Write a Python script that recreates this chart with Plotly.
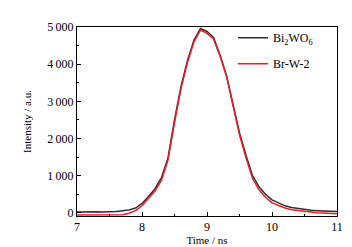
import plotly.graph_objects as go

time_ns = [7.0, 7.1, 7.2, 7.3, 7.4, 7.5, 7.6, 7.7, 7.8, 7.9, 8.0, 8.1, 8.2, 8.3, 8.4, 8.5, 8.6, 8.7, 8.8, 8.9,
           9.0, 9.1, 9.2, 9.3, 9.4, 9.5, 9.6, 9.7, 9.8, 9.9, 10.0, 10.1, 10.2, 10.3, 10.4, 10.5, 10.6, 10.7, 10.8, 10.9, 11.0]
bi2wo6 = [25, 30, 30, 28, 25, 25, 35, 60, 75, 130, 255, 440, 650, 950, 1480, 2500, 3400, 4100, 4650, 4960,
          4880, 4720, 4250, 3700, 2900, 2150, 1550, 1000, 700, 500, 350, 260, 190, 145, 115, 90, 70, 60, 55, 45, 35]
brw2 = [-60, -60, -60, -60, -60, -60, -60, -50, -10, 60, 190, 380, 590, 880, 1420, 2420, 3350, 4050, 4600, 4920,
        4830, 4680, 4220, 3670, 2850, 2100, 1480, 930, 620, 420, 270, 190, 130, 85, 60, 35, 15, 5, -5, -15, -25]

y_ticks = [0, 1000, 2000, 3000, 4000, 5000]
y_labels = ["0", "1\u2009000", "2\u2009000", "3\u2009000", "4\u2009000", "5\u2009000"]
x_ticks = [7, 8, 9, 10, 11]

font = "Liberation Serif, Times New Roman, serif"

fig = go.Figure()
fig.add_trace(go.Scatter(x=time_ns, y=bi2wo6, mode="lines", name="Bi<sub>2</sub>WO<sub>6</sub>",
                         legendgroup="a", line=dict(color="#2b2f33", width=1.5)))
fig.add_trace(go.Scatter(x=time_ns, y=brw2, mode="lines", name="Br-W-2",
                         legendgroup="b", line=dict(color="#ee1c25", width=1.5)))

axis_common = dict(showline=True, linecolor="black", linewidth=1, mirror=True, ticks="inside",
                   ticklen=4, tickcolor="black", showgrid=False, zeroline=False,
                   tickfont=dict(family=font, size=12, color="black"))

fig.update_layout(
    width=352, height=247,
    margin=dict(l=69, r=23, t=14, b=33),
    paper_bgcolor="white", plot_bgcolor="white",
    font=dict(family=font, size=12, color="black"),
    xaxis=dict(range=[7, 11], tickvals=x_ticks, ticktext=[str(v) for v in x_ticks],
               minor=dict(ticks="inside", ticklen=2, dtick=0.5, tickcolor="black"),
               title=dict(text="Time / ns", font=dict(family=font, size=11), standoff=1),
               **axis_common),
    yaxis=dict(range=[-84, 5000], tickvals=y_ticks, ticktext=y_labels,
               minor=dict(ticks="inside", ticklen=2, dtick=500, tickcolor="black"),
               title=dict(text="Intensity / a.u.", font=dict(family=font, size=11), standoff=13),
               **axis_common),
    legend=dict(x=0.6, y=1.02, xanchor="left", yanchor="top", bgcolor="rgba(0,0,0,0)",
                font=dict(family=font, size=12), tracegroupgap=7, itemwidth=30),
    showlegend=True,
)

fig.write_html("out.html")
